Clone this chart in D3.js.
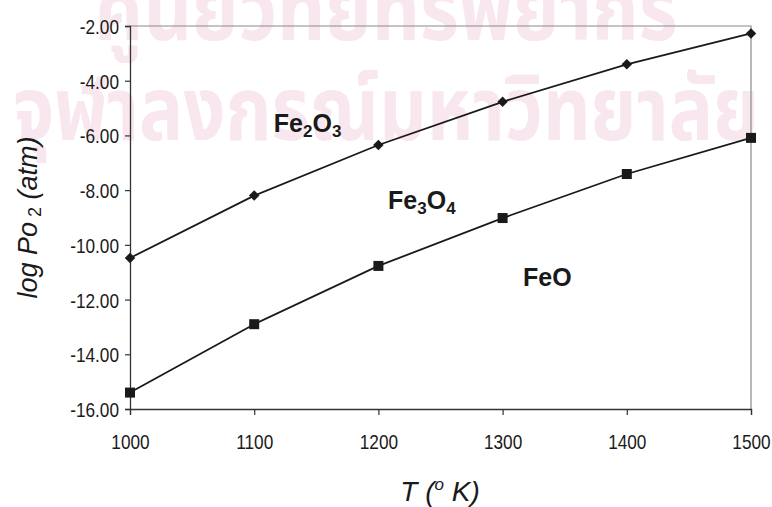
<!DOCTYPE html>
<html>
<head>
<meta charset="utf-8">
<script src="https://cdn.jsdelivr.net/npm/d3@7/dist/d3.min.js"></script>
<style>
  body { margin: 0; background: #fff; }
  svg { display: block; }
</style>
</head>
<body>
<div id="chart-area"></div>
<script>
// data
let temps = [1000, 1100, 1200, 1300, 1400, 1500];
let fe2o3 = [-10.48, -8.2, -6.35, -4.77, -3.4, -2.27];   // Fe2O3 / Fe3O4 boundary
let feo = [-15.4, -12.9, -10.77, -9.02, -7.41, -6.09];   // Fe3O4 / FeO boundary
let yTicks = [-2, -4, -6, -8, -10, -12, -14, -16];
let xTicks = [1000, 1100, 1200, 1300, 1400, 1500];

let margin = { top: 26, right: 21, bottom: 98, left: 130 },
	width = 772 - margin.left - margin.right,
	height = 507 - margin.top - margin.bottom;

let narrow = 0.82; // the scan is squeezed sideways, the tick labels look condensed

let svg = d3.select("#chart-area").append("svg")
	.attr("width", 772)
	.attr("height", 507);

// pale watermark of the scan
let wm = svg.append("g").attr("fill", "#f8e7ee")
	.attr("font-family", "'Noto Sans Thai', 'Noto Sans', 'DejaVu Sans', sans-serif")
	.attr("font-weight", "bold")
	.attr("font-size", "88px")
	.attr("text-anchor", "middle");
wm.append("text").attr("transform", "translate(386,40) scale(0.85,1)")
	.text("ศูนย์วิทยทรัพยากร");
wm.append("text").attr("transform", "translate(386,140) scale(0.84,1)")
	.text("จุฬาลงกรณ์มหาวิทยาลัย");

let group = svg.append("g")
	.attr("transform", "translate(" + margin.left + "," + margin.top + ")");

let x = d3.scaleLinear().domain([1000, 1500]).range([0, width]);
let y = d3.scaleLinear().domain([-16, -2]).range([height, 0]);

// plot area frame (top and right)
group.append("path")
	.attr("d", "M0,0H" + width + "V" + height)
	.attr("fill", "none")
	.attr("stroke", "#8a8a8a")
	.attr("stroke-width", 1.2);

let axisBottom = d3.axisBottom(x).tickValues(xTicks).tickSize(6).tickFormat(d3.format("d"));
let gx = group.append("g")
	.attr("class", "bottom axis")
	.attr("transform", "translate(0," + height + ")")
	.call(axisBottom);

let axisLeft = d3.axisLeft(y).tickValues(yTicks).tickSize(5)
	.tickFormat((d) => d.toFixed(2));
let gy = group.append("g")
	.attr("class", "left axis")
	.call(axisLeft);

[gx, gy].forEach((g) => {
	g.select(".domain").attr("stroke", "#333").attr("stroke-width", 1.3);
	g.selectAll(".tick line").attr("stroke", "#333").attr("stroke-width", 1.2);
	g.selectAll("text")
		.attr("fill", "#1a1a1a")
		.attr("font-family", "'Liberation Sans', Arial, sans-serif")
		.attr("font-size", "21px")
		.attr("transform", "scale(" + narrow + ",1)");
});
gx.selectAll("text").attr("y", 25);
gy.selectAll("text").attr("x", -11 / narrow).attr("dy", "0.36em");

// series
let line = d3.line()
	.x((d, i) => x(temps[i]))
	.y((d) => y(d));

[fe2o3, feo].forEach((s) => {
	group.append("path")
		.datum(s)
		.attr("d", line)
		.attr("fill", "none")
		.attr("stroke", "#1a1a1a")
		.attr("stroke-width", 1.8);
});

group.selectAll(".diamond").data(fe2o3).enter()
	.append("path")
	.attr("class", "diamond")
	.attr("d", d3.symbol().type(d3.symbolDiamond2).size(70))
	.attr("transform", (d, i) => "translate(" + x(temps[i]) + "," + y(d) + ")")
	.attr("fill", "#1a1a1a");

group.selectAll(".square").data(feo).enter()
	.append("rect")
	.attr("class", "square")
	.attr("x", (d, i) => x(temps[i]) - 5)
	.attr("y", (d) => y(d) - 5)
	.attr("width", 10)
	.attr("height", 10)
	.attr("fill", "#1a1a1a");

// phase labels
let phases = [
	{ parts: [["Fe", 0], ["2", 1], ["O", 0], ["3", 1]], t: 1143, v: -5.55 },
	{ parts: [["Fe", 0], ["3", 1], ["O", 0], ["4", 1]], t: 1235, v: -8.36 },
	{ parts: [["FeO", 0]], t: 1336, v: -11.17 }
];
phases.forEach((p) => {
	let t = group.append("text")
		.attr("x", x(p.t))
		.attr("y", y(p.v) + 9)
		.attr("text-anchor", "middle")
		.attr("font-family", "'Liberation Sans', Arial, sans-serif")
		.attr("font-weight", "bold")
		.attr("font-size", "25px")
		.attr("fill", "#1a1a1a");
	p.parts.forEach((q) => {
		let ts = t.append("tspan").text(q[0]);
		if (q[1]) ts.attr("font-size", "17px").attr("dy", "5");
		else if (t.selectAll("tspan").size() > 1) ts.attr("dy", "-5");
	});
});

// axis titles
let xt = svg.append("text")
	.attr("x", 440)
	.attr("y", 501)
	.attr("text-anchor", "middle")
	.attr("font-family", "'Liberation Sans', Arial, sans-serif")
	.attr("font-style", "italic")
	.attr("font-size", "28px")
	.attr("fill", "#1a1a1a");
xt.append("tspan").text("T  (");
xt.append("tspan").attr("font-size", "17px").attr("dy", "-11").text("o");
xt.append("tspan").attr("dy", "11").text(" K)");

let yt = svg.append("text")
	.attr("transform", "translate(37," + (margin.top + height / 2) + ") rotate(-90)")
	.attr("text-anchor", "middle")
	.attr("font-family", "'Liberation Sans', Arial, sans-serif")
	.attr("font-style", "italic")
	.attr("font-size", "27px")
	.attr("fill", "#1a1a1a");
yt.append("tspan").text("log Po");
yt.append("tspan").attr("font-style", "normal").attr("font-size", "18px").attr("dy", "4").text(" 2");
yt.append("tspan").attr("dy", "-4").text(" (atm)");
</script>
</body>
</html>
